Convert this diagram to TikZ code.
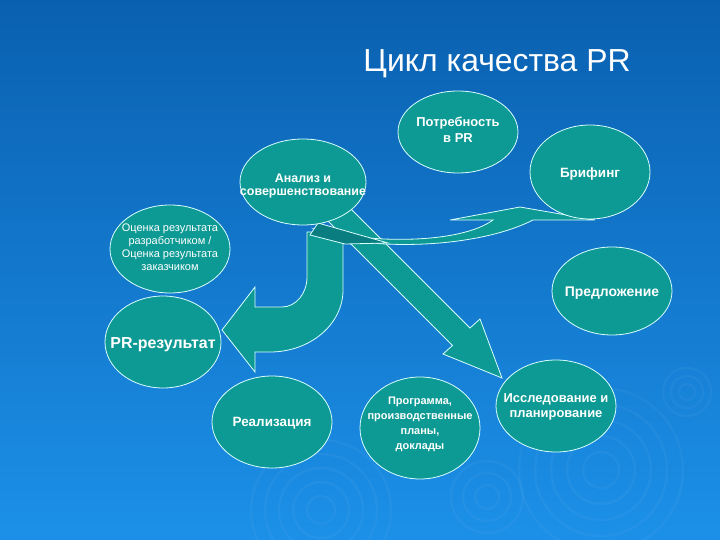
\documentclass[tikz,border=0pt]{standalone}
\usepackage{fontspec}
\setmainfont{Liberation Sans}
\usetikzlibrary{shapes.geometric}
\definecolor{bgtop}{HTML}{0A60B0}
\definecolor{bgmid}{HTML}{0C6BBE}
\definecolor{bgbot}{HTML}{1C90E8}
\definecolor{tealfill}{HTML}{0E9A94}
\definecolor{tealdark}{HTML}{0A7D80}
\definecolor{edgecol}{HTML}{D8FFFF}
\begin{document}
\begin{tikzpicture}[x=1bp,y=-1bp,
  ell/.style={ellipse, draw=edgecol, line width=0.8bp, fill=tealfill, inner sep=0pt},
  txt/.style={text=white, align=center, inner sep=0pt},
  blk/.style={draw=edgecol, line width=0.8bp, fill=tealfill, line join=miter},
  ripple/.style={draw=white, opacity=0.035, line width=2.5bp},
  fA/.style={font=\fontsize{13}{16}\selectfont\bfseries},
  fB/.style={font=\fontsize{11}{13}\selectfont}]
\useasboundingbox (0,0) rectangle (720,540);
\shade[top color=bgtop, middle color=bgmid, bottom color=bgbot] (0,0) rectangle (720,540);

% ripples
\foreach \r in {18,34,50,66,82} \draw[ripple] (601,470) circle (\r);
\foreach \r in {14,28,42,56,70} \draw[ripple] (321,510) circle (\r);
\foreach \r in {12,24,36} \draw[ripple] (487,497) circle (\r);
\foreach \r in {8,16,24} \draw[ripple] (687,392) circle (\r);

% diagonal arrow
\draw[blk] (330,188) -- (470,328) -- (480,319) -- (502,378) -- (443,354) -- (452.5,345.5) -- (312,205) -- cycle;

% U-turn arrow
\draw[blk] (307,232) -- (307,277) arc[start angle=0, end angle=90, x radius=25, y radius=30]
  -- (255,307) -- (255,287) -- (222,330) -- (255,372) -- (255,352) -- (270,352)
  arc[start angle=90, end angle=0, x radius=73, y radius=62] -- (343,232) -- cycle;

% curved arrow to Brifing
\draw[blk] (314,229) .. controls (350,250) and (470,252) .. (533,220) -- (595,220) -- (520,207) -- (450,220) -- (493,220)
  .. controls (460,244) and (370,244) .. (314,229) -- cycle;
\draw[blk, fill=tealdark] (318,223) -- (388,243) -- (345,244) -- (310,235) -- cycle;

% ellipses
\node[ell, minimum width=120bp, minimum height=82bp] (potr) at (458,132) {};
\node[txt, fA] (potrT) at (458,130) {Потребность\\в PR};
\node[ell, minimum width=126bp, minimum height=86bp] (anal) at (303,182) {};
\node[txt, font=\fontsize{12.5}{14}\selectfont\bfseries] (analT) at (303,186) {Анализ и\\совершенствование};
\node[ell, minimum width=120bp, minimum height=94bp] (brif) at (590,172) {};
\node[txt, font=\fontsize{13.5}{16}\selectfont\bfseries] (brifT) at (590,174) {Брифинг};
\node[ell, minimum width=120bp, minimum height=88bp] (pred) at (612,291) {};
\node[txt, font=\fontsize{14}{16}\selectfont\bfseries] (predT) at (612,293) {Предложение};
\node[ell, minimum width=120bp, minimum height=88bp] (ocen) at (170,249) {};
\node[txt, fB] (ocenT) at (170,247) {Оценка результата\\разработчиком /\\Оценка результата\\заказчиком};
\node[ell, minimum width=116bp, minimum height=92bp] (prres) at (163,342) {};
\node[txt, font=\fontsize{16}{19}\selectfont\bfseries] (prresT) at (163,345) {PR-результат};
\node[ell, minimum width=120bp, minimum height=92bp] (real) at (272,422) {};
\node[txt, font=\fontsize{13.5}{16}\selectfont\bfseries] (realT) at (272,423) {Реализация};
\node[ell, minimum width=120bp, minimum height=102bp] (prog) at (420,428) {};
\node[txt, font=\fontsize{11}{15}\selectfont\bfseries] (progT) at (420,424) {Программа,\\производственные\\планы,\\доклады};
\node[ell, minimum width=120bp, minimum height=92bp] (issl) at (556,406) {};
\node[txt, font=\fontsize{13}{15}\selectfont\bfseries] (isslT) at (556,407) {Исследование и\\планирование};

% title
\node[text=white, font=\fontsize{32}{36}\selectfont, anchor=base] (title) at (497,72) {Цикл качества PR};
\end{tikzpicture}
\end{document}
